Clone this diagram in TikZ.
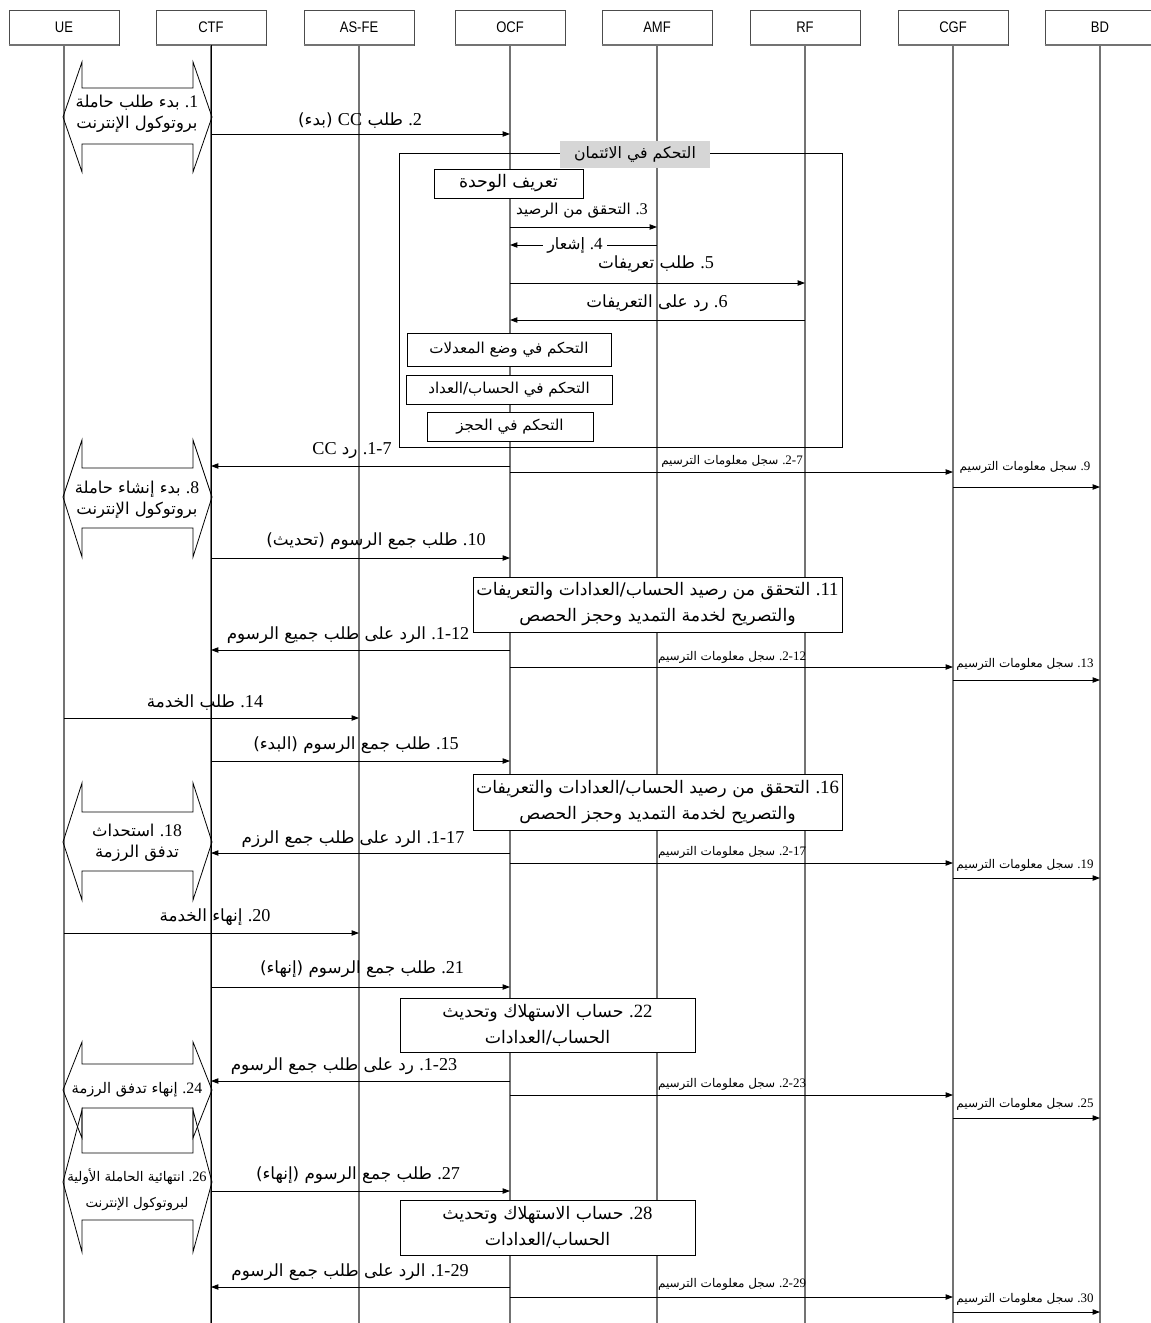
\documentclass[tikz,border=0pt]{standalone}
\usepackage{fontspec}
\usetikzlibrary{arrows.meta}
\TeXXeTstate=1
\newfontfamily\arabicfont[Script=Arabic]{DejaVu Sans}
\newfontfamily\latinserif[Scale=1.08]{Liberation Serif}
\newfontfamily\headerfont[FakeStretch=0.85]{Liberation Sans}
% a right-to-left Arabic run
\newcommand\artext[1]{{\arabicfont\beginR #1\endR}}
% a step number set left-to-right, followed by its dot
\newcommand\stepno[1]{\beginL{\latinserif #1}\endL{\latinserif .}\ }
% a Latin word inside Arabic text
\newcommand\latword[1]{\beginL{\latinserif #1}\endL}
% bearer double-arrow shape: top, upper notch, tip, lower notch, bottom
\newcommand\bearershape[5]{%
  \draw[bearer] (82,#1) -- (82,#2) -- (193,#2) -- (193,#1) -- (212,#3)
    -- (193,#5) -- (193,#4) -- (82,#4) -- (82,#5) -- (63,#3) -- cycle;}

\tikzset{
  lifeline/.style={draw=black!55, line width=0.9pt},
  msg/.style={draw=black, line width=0.6pt, -{Triangle[length=5.5pt,width=4pt]}},
  actor/.style={draw=black!70, line width=0.5pt, fill=white, minimum width=82.5pt,
    minimum height=26.25pt, inner sep=0pt, font=\headerfont\fontsize{11.5}{13}\selectfont},
  lbl/.style={inner sep=0.5pt, font=\fontsize{12.6}{15}\selectfont},
  smalllbl/.style={inner sep=0.5pt, font=\fontsize{9}{11}\selectfont},
  procbox/.style={draw=black, line width=0.6pt, fill=white, inner sep=0pt, align=center,
    font=\fontsize{13}{19.5}\selectfont},
  ccbox/.style={procbox, font=\fontsize{11.3}{13}\selectfont},
  shapetxt/.style={inner sep=0pt, align=center, font=\fontsize{12.3}{15.75}\selectfont},
  bearer/.style={draw=black, line width=0.6pt},
  frame/.style={draw=black, line width=0.6pt},
}

\begin{document}
\begin{tikzpicture}[x=0.75pt, y=-0.75pt]
\useasboundingbox (0,0) rectangle (1151,1323);

% actors
\foreach \nm/\xx/\txt in {UE/64/UE, CTF/211/CTF, ASFE/359/AS-FE, OCF/510/OCF,
    AMF/657/AMF, RF/805/RF, CGF/953/CGF, BD/1100/BD}{
  \node[actor] (\nm) at (\xx,27.5) {\txt};
  \draw[black!55, line width=1.3pt] (\nm.south west) -- (\nm.south east);
  \draw[lifeline] (\nm.south) -- (\nm |- 0,1323);
}
\draw[black, line width=0.7pt] (CTF.south) -- (CTF |- 0,1323);

% bearer set-up and release shapes
\bearershape{62}{88}{117}{144}{172}
\node[shapetxt] (s1) at (137,114) {\artext{\stepno{1}بدء طلب حاملة}\\\artext{بروتوكول الإنترنت}};
\bearershape{440}{468}{497}{528}{557}
\node[shapetxt] (s8) at (137,500) {\artext{\stepno{8}بدء إنشاء حاملة}\\\artext{بروتوكول الإنترنت}};
\bearershape{783}{812}{842}{871}{900}
\node[shapetxt] (s18) at (137,843) {\artext{\stepno{18}استحداث}\\\artext{تدفق الرزمة}};
\bearershape{1042}{1064}{1090}{1108}{1138}
\node[shapetxt, font=\fontsize{11}{13}\selectfont] (s24) at (137,1090) {\artext{\stepno{24}إنهاء تدفق الرزمة}};
\bearershape{1110}{1153}{1182}{1220}{1252}
\node[shapetxt, font=\fontsize{10}{19.5}\selectfont] (s26) at (137,1190) {\artext{\stepno{26}انتهائية الحاملة الأولية}\\\artext{لبروتوكول الإنترنت}};

% credit control frame
\draw[frame] (399,153) rectangle (842,447);
\node[fill=black!16, minimum width=112.5pt, minimum height=20.25pt, inner sep=0pt,
  font=\fontsize{11.8}{13}\selectfont] (cctitle) at (635,154.5) {\artext{التحكم في الائتمان}};
\node[procbox, minimum width=111.75pt, minimum height=21.75pt] (unitdef) at (508.5,183.5) {\artext{تعريف الوحدة}};
\node[ccbox, minimum width=153pt, minimum height=24.75pt] (rating) at (509,349.5) {\artext{التحكم في وضع المعدلات}};
\node[ccbox, minimum width=154.5pt, minimum height=21.75pt] (account) at (509,389.5) {\artext{التحكم في الحساب/العداد}};
\node[ccbox, minimum width=124.5pt, minimum height=21.75pt] (reserve) at (510,426.5) {\artext{التحكم في الحجز}};

\draw[msg] (CTF |- 0,134) -- (OCF |- 0,134);
\node[lbl] (t2) at (360,121) {\artext{\stepno{2}طلب \latword{CC} (بدء)}};
\draw[msg] (OCF |- 0,227) -- (AMF |- 0,227);
\node[lbl, font=\fontsize{11.3}{13}\selectfont] (t3) at (582,211) {\artext{\stepno{3}التحقق من الرصيد}};
\draw[msg] (AMF |- 0,245) -- (OCF |- 0,245);
\node[lbl, fill=white, inner xsep=3pt, font=\fontsize{11.8}{13}\selectfont] (t4) at (575,245) {\artext{\stepno{4}إشعار}};
\draw[msg] (OCF |- 0,283) -- (RF |- 0,283);
\node[lbl] (t5) at (656,264) {\artext{\stepno{5}طلب تعريفات}};
\draw[msg] (RF |- 0,320) -- (OCF |- 0,320);
\node[lbl] (t6) at (657,303) {\artext{\stepno{6}رد على التعريفات}};

% first response and records
\draw[msg] (OCF |- 0,466) -- (CTF |- 0,466);
\node[lbl] (t71) at (352,451) {\artext{\stepno{1-7}رد \latword{CC}}};
\draw[msg] (OCF |- 0,472) -- (CGF |- 0,472);
\node[smalllbl] (t72) at (732,461) {\artext{\stepno{2-7}سجل معلومات الترسيم}};
\draw[msg] (CGF |- 0,487) -- (BD |- 0,487);
\node[smalllbl] (t9) at (1025,467) {\artext{\stepno{9}سجل معلومات الترسيم}};

% update
\draw[msg] (CTF |- 0,558) -- (OCF |- 0,558);
\node[lbl] (t10) at (376,541) {\artext{\stepno{10}طلب جمع الرسوم (تحديث)}};
\node[procbox, minimum width=276.75pt, minimum height=41.25pt] (b11) at (657.5,604.5)
  {\artext{\stepno{11}التحقق من رصيد الحساب/العدادات والتعريفات}\\\artext{والتصريح لخدمة التمديد وحجز الحصص}};
\draw[msg] (OCF |- 0,650) -- (CTF |- 0,650);
\node[lbl] (t121) at (348,635) {\artext{\stepno{1-12}الرد على طلب جميع الرسوم}};
\draw[msg] (OCF |- 0,667) -- (CGF |- 0,667);
\node[smalllbl] (t122) at (732,657) {\artext{\stepno{2-12}سجل معلومات الترسيم}};
\draw[msg] (CGF |- 0,680) -- (BD |- 0,680);
\node[smalllbl] (t13) at (1025,664) {\artext{\stepno{13}سجل معلومات الترسيم}};

% service start
\draw[msg] (UE |- 0,718) -- (ASFE |- 0,718);
\node[lbl] (t14) at (205,703) {\artext{\stepno{14}طلب الخدمة}};
\draw[msg] (CTF |- 0,761) -- (OCF |- 0,761);
\node[lbl] (t15) at (356,745) {\artext{\stepno{15}طلب جمع الرسوم (البدء)}};
\node[procbox, minimum width=276.75pt, minimum height=42pt] (b16) at (657.5,802)
  {\artext{\stepno{16}التحقق من رصيد الحساب/العدادات والتعريفات}\\\artext{والتصريح لخدمة التمديد وحجز الحصص}};
\draw[msg] (OCF |- 0,853) -- (CTF |- 0,853);
\node[lbl] (t171) at (353,839) {\artext{\stepno{1-17}الرد على طلب جمع الرزم}};
\draw[msg] (OCF |- 0,863) -- (CGF |- 0,863);
\node[smalllbl] (t172) at (732,852) {\artext{\stepno{2-17}سجل معلومات الترسيم}};
\draw[msg] (CGF |- 0,878) -- (BD |- 0,878);
\node[smalllbl] (t19) at (1025,865) {\artext{\stepno{19}سجل معلومات الترسيم}};

% service end
\draw[msg] (UE |- 0,933) -- (ASFE |- 0,933);
\node[lbl] (t20) at (215,917) {\artext{\stepno{20}إنهاء الخدمة}};
\draw[msg] (CTF |- 0,987) -- (OCF |- 0,987);
\node[lbl] (t21) at (362,969) {\artext{\stepno{21}طلب جمع الرسوم (إنهاء)}};
\node[procbox, minimum width=221.25pt, minimum height=40.5pt] (b22) at (547.5,1025)
  {\artext{\stepno{22}حساب الاستهلاك وتحديث}\\\artext{الحساب/العدادات}};
\draw[msg] (OCF |- 0,1081) -- (CTF |- 0,1081);
\node[lbl] (t231) at (344,1066) {\artext{\stepno{1-23}رد على طلب جمع الرسوم}};
\draw[msg] (OCF |- 0,1095) -- (CGF |- 0,1095);
\node[smalllbl] (t232) at (732,1084) {\artext{\stepno{2-23}سجل معلومات الترسيم}};
\draw[msg] (CGF |- 0,1118) -- (BD |- 0,1118);
\node[smalllbl] (t25) at (1025,1104) {\artext{\stepno{25}سجل معلومات الترسيم}};

% bearer release
\draw[msg] (CTF |- 0,1191) -- (OCF |- 0,1191);
\node[lbl] (t27) at (358,1175) {\artext{\stepno{27}طلب جمع الرسوم (إنهاء)}};
\node[procbox, minimum width=221.25pt, minimum height=41.25pt] (b28) at (547.5,1227.5)
  {\artext{\stepno{28}حساب الاستهلاك وتحديث}\\\artext{الحساب/العدادات}};
\draw[msg] (OCF |- 0,1287) -- (CTF |- 0,1287);
\node[lbl] (t291) at (350,1272) {\artext{\stepno{1-29}الرد على طلب جمع الرسوم}};
\draw[msg] (OCF |- 0,1297) -- (CGF |- 0,1297);
\node[smalllbl] (t292) at (732,1284) {\artext{\stepno{2-29}سجل معلومات الترسيم}};
\draw[msg] (CGF |- 0,1312) -- (BD |- 0,1312);
\node[smalllbl] (t30) at (1025,1299) {\artext{\stepno{30}سجل معلومات الترسيم}};
\end{tikzpicture}
\end{document}
